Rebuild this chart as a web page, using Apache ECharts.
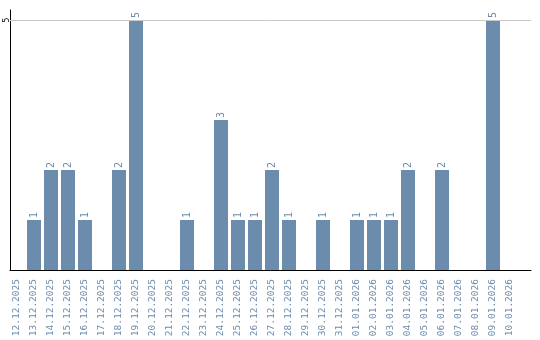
<!DOCTYPE html>
<html><head><meta charset="utf-8">
<script src="https://cdn.jsdelivr.net/npm/echarts@6/dist/echarts.min.js"></script>
<style>html,body{margin:0;padding:0;background:#fff}#c{width:540px;height:340px}</style>
</head><body><div id="c"></div>
<script>
const categories = ['12.12.2025','13.12.2025','14.12.2025','15.12.2025','16.12.2025','17.12.2025','18.12.2025','19.12.2025','20.12.2025','21.12.2025','22.12.2025','23.12.2025','24.12.2025','25.12.2025','26.12.2025','27.12.2025','28.12.2025','29.12.2025','30.12.2025','31.12.2025','01.01.2026','02.01.2026','03.01.2026','04.01.2026','05.01.2026','06.01.2026','07.01.2026','08.01.2026','09.01.2026','10.01.2026'];
const values = [0,1,2,2,1,0,2,5,0,0,1,0,3,1,1,2,1,0,1,0,1,1,1,2,0,2,0,0,5,0];
const yTickLabels = [5];

const blue = '#6b8cad';
const font = 'DejaVu Sans Mono';
const chart = echarts.init(document.getElementById('c'), null, {renderer:'canvas'});
chart.setOption({
  animation: false,
  grid: [
    {left: 8.5, top: 20, width: 510, height: 250},
    {left: 10, top: 10, width: 521, height: 260}
  ],
  xAxis: [
    {type:'category', gridIndex:0, data: categories,
     axisLine:{show:false}, axisTick:{show:false}, splitLine:{show:false},
     axisLabel:{rotate:90, interval:0, margin:9, color: blue, fontFamily: font, fontSize: 9.5}},
    {type:'value', gridIndex:1, min:0, max:1,
     axisLine:{show:true, onZero:false, lineStyle:{color:'#000', width:1}}, axisTick:{show:false},
     axisLabel:{show:false}, splitLine:{show:false}}
  ],
  yAxis: [
    {type:'value', gridIndex:0, min:0, max:5, show:false, splitLine:{show:false}},
    {type:'value', gridIndex:1, min:0, max:5.2, interval:5,
     axisLine:{show:true, lineStyle:{color:'#000', width:1}}, axisTick:{show:false},
     splitLine:{show:false},
     axisLabel:{rotate:90, margin:-1, align:'center', verticalAlign:'bottom', color:'#000', fontFamily: font, fontSize: 8,
       formatter: v => yTickLabels.indexOf(v) >= 0 ? String(v) : ''}}
  ],
  series: [
    {type:'bar', xAxisIndex:0, yAxisIndex:0, barWidth:14,
     data: values.map(v => v === 0 ? null : v),
     itemStyle:{color: blue},
     label:{show:true, position:'top', rotate:90, distance:2, align:'left', verticalAlign:'middle',
       color: blue, fontFamily: font, fontSize: 10}},
    {type:'line', xAxisIndex:1, yAxisIndex:1, data: [], silent:true,
     markLine:{silent:true, symbol:'none', label:{show:false},
       lineStyle:{color:'#c8c8c8', type:'solid', width:1},
       data: yTickLabels.map(v => ({yAxis: v}))}}
  ]
});
</script></body></html>
